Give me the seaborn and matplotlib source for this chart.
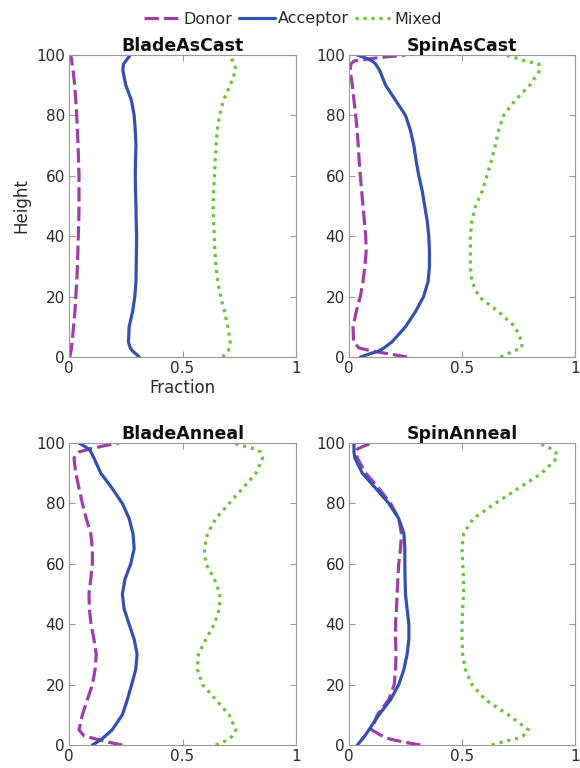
import numpy as np
import pandas as pd
import matplotlib
matplotlib.use("Agg")
import matplotlib.pyplot as plt
import seaborn as sns
from matplotlib.lines import Line2D

sns.set_theme(style="white")
plt.rcParams['font.family'] = ['DejaVu Sans']

heights = [0, 1, 2, 3, 5, 10, 15, 20, 25, 30, 35, 40, 45, 50, 55, 60, 65, 70,
           75, 80, 85, 90, 95, 97, 98, 99, 100]

panels = ["BladeAsCast", "SpinAsCast", "BladeAnneal", "SpinAnneal"]
phases = ["Donor", "Acceptor", "Mixed"]

blade_ascast_donor = [0.003, 0.006, 0.009, 0.011, 0.014, 0.02, 0.026, 0.03, 0.034, 0.037, 0.039, 0.041, 0.043, 0.044,
                      0.044, 0.044, 0.042, 0.04, 0.037, 0.034, 0.03, 0.025, 0.018, 0.014, 0.012, 0.01, 0.007]
blade_ascast_acceptor = [0.31, 0.295, 0.28, 0.27, 0.262, 0.265, 0.28, 0.29, 0.295, 0.296, 0.297, 0.298, 0.296, 0.295,
                         0.293, 0.292, 0.293, 0.295, 0.292, 0.287, 0.275, 0.25, 0.237, 0.24, 0.25, 0.26, 0.27]
blade_ascast_mixed = [0.676, 0.69, 0.7, 0.707, 0.71, 0.7, 0.685, 0.668, 0.655, 0.648, 0.643, 0.64, 0.637, 0.635,
                      0.637, 0.641, 0.644, 0.648, 0.653, 0.663, 0.68, 0.71, 0.735, 0.73, 0.722, 0.713, 0.705]

spin_ascast_donor = [0.257, 0.18, 0.1, 0.044, 0.02, 0.018, 0.032, 0.05, 0.062, 0.07, 0.076, 0.074, 0.068, 0.062,
                     0.056, 0.05, 0.045, 0.041, 0.036, 0.03, 0.022, 0.015, 0.005, 0.008, 0.022, 0.118, 0.25]
spin_ascast_acceptor = [0.051, 0.09, 0.132, 0.155, 0.19, 0.25, 0.294, 0.33, 0.35, 0.356, 0.356, 0.353, 0.346, 0.335,
                        0.324, 0.309, 0.297, 0.287, 0.272, 0.25, 0.206, 0.162, 0.135, 0.118, 0.103, 0.074, 0.037]
spin_ascast_mixed = [0.67, 0.7, 0.73, 0.765, 0.765, 0.735, 0.662, 0.574, 0.544, 0.537, 0.537, 0.537, 0.544, 0.56,
                     0.59, 0.61, 0.63, 0.647, 0.662, 0.684, 0.735, 0.8, 0.845, 0.84, 0.78, 0.74, 0.69]

blade_anneal_donor = [0.235, 0.17, 0.118, 0.066, 0.044, 0.059, 0.081, 0.103, 0.115, 0.12, 0.11, 0.097, 0.09, 0.088,
                      0.096, 0.103, 0.103, 0.096, 0.076, 0.059, 0.044, 0.03, 0.022, 0.044, 0.09, 0.15, 0.22]
blade_anneal_acceptor = [0.103, 0.125, 0.145, 0.16, 0.19, 0.235, 0.257, 0.276, 0.294, 0.3, 0.287, 0.265, 0.243, 0.235,
                         0.247, 0.272, 0.287, 0.282, 0.265, 0.235, 0.19, 0.14, 0.11, 0.097, 0.088, 0.066, 0.044]
blade_anneal_mixed = [0.647, 0.68, 0.705, 0.72, 0.735, 0.705, 0.647, 0.588, 0.566, 0.57, 0.603, 0.64, 0.662, 0.665,
                      0.64, 0.603, 0.596, 0.61, 0.647, 0.705, 0.765, 0.824, 0.853, 0.845, 0.82, 0.77, 0.72]

spin_anneal_donor = [0.316, 0.24, 0.18, 0.147, 0.1, 0.125, 0.176, 0.2, 0.206, 0.208, 0.206, 0.206, 0.21, 0.213,
                     0.216, 0.22, 0.228, 0.232, 0.22, 0.184, 0.132, 0.074, 0.037, 0.035, 0.037, 0.066, 0.103]
spin_anneal_acceptor = [0.037, 0.048, 0.059, 0.07, 0.088, 0.132, 0.184, 0.22, 0.243, 0.257, 0.265, 0.265, 0.257, 0.25,
                        0.248, 0.247, 0.247, 0.243, 0.22, 0.176, 0.118, 0.059, 0.026, 0.022, 0.022, 0.022, 0.022]
spin_anneal_mixed = [0.632, 0.68, 0.735, 0.77, 0.794, 0.705, 0.603, 0.544, 0.515, 0.503, 0.5, 0.5, 0.503, 0.507,
                     0.507, 0.503, 0.5, 0.507, 0.55, 0.647, 0.75, 0.853, 0.92, 0.915, 0.897, 0.87, 0.838]

series = {
    "BladeAsCast": [blade_ascast_donor, blade_ascast_acceptor, blade_ascast_mixed],
    "SpinAsCast": [spin_ascast_donor, spin_ascast_acceptor, spin_ascast_mixed],
    "BladeAnneal": [blade_anneal_donor, blade_anneal_acceptor, blade_anneal_mixed],
    "SpinAnneal": [spin_anneal_donor, spin_anneal_acceptor, spin_anneal_mixed],
}

x_ticks = [0, 0.5, 1]
x_tick_labels = ["0", "0.5", "1"]
y_ticks = [0, 20, 40, 60, 80, 100]

palette = {"Donor": "#9E3FA8", "Acceptor": "#3450B2", "Mixed": "#6CC23A"}
dashes = {"Donor": (4.5, 1.6), "Acceptor": "", "Mixed": (1, 1.5)}

rows = []
for p in panels:
    for ph, vals in zip(phases, series[p]):
        for h, v in zip(heights, vals):
            rows.append({"Panel": p, "Phase": ph, "Height": h, "Fraction": v})
df = pd.DataFrame(rows)

fig = plt.figure(figsize=(5.8, 7.68), dpi=100)
W, H = 580, 768
pos = {
    "BladeAsCast": (69, 55, 296, 357),
    "SpinAsCast": (349, 55, 575, 357),
    "BladeAnneal": (69, 443, 296, 745),
    "SpinAnneal": (349, 443, 575, 745),
}
spine_col = "#9a9a9a"
LW = 2.3
for p in panels:
    x0, y0, x1, y1 = pos[p]
    ax = fig.add_axes([x0 / W, 1 - y1 / H, (x1 - x0) / W, (y1 - y0) / H])
    sub = df[df.Panel == p]
    sns.lineplot(data=sub, x="Fraction", y="Height", hue="Phase", style="Phase",
                 palette=palette, dashes=dashes, orient="y", sort=True,
                 linewidth=LW, legend=False, ax=ax)
    for ln in ax.get_lines():
        ln.set_solid_joinstyle("round")
        ln.set_dash_joinstyle("round")
    ax.set_xlim(0, 1)
    ax.set_ylim(0, 100)
    ax.set_xticks(x_ticks)
    ax.set_xticklabels(x_tick_labels)
    ax.set_yticks(y_ticks)
    ax.tick_params(direction="in", length=4, width=0.8, colors=spine_col,
                   labelcolor="#2a2a2a", labelsize=11, top=True, right=True,
                   bottom=True, left=True, pad=3)
    for s in ax.spines.values():
        s.set_color(spine_col)
        s.set_linewidth(0.8)
    ax.set_title(p, fontsize=12.5, fontweight="bold", color="#111111", pad=3)
    if p == "BladeAsCast":
        ax.set_xlabel("Fraction", fontsize=12, color="#2a2a2a", labelpad=2)
        ax.set_ylabel("Height", fontsize=12, color="#2a2a2a", labelpad=4)
    else:
        ax.set_xlabel("")
        ax.set_ylabel("")

handles = [Line2D([], [], color=palette[ph], linewidth=LW,
                  linestyle=(0, dashes[ph]) if dashes[ph] else "-") for ph in phases]
fig.legend(handles, phases, loc="center", bbox_to_anchor=(293 / W, 1 - 19 / H),
           ncol=3, frameon=False, fontsize=11.5, handlelength=2.3,
           handletextpad=0.15, columnspacing=0.4, labelcolor="#2a2a2a")

fig.savefig("out.png", dpi=100)
